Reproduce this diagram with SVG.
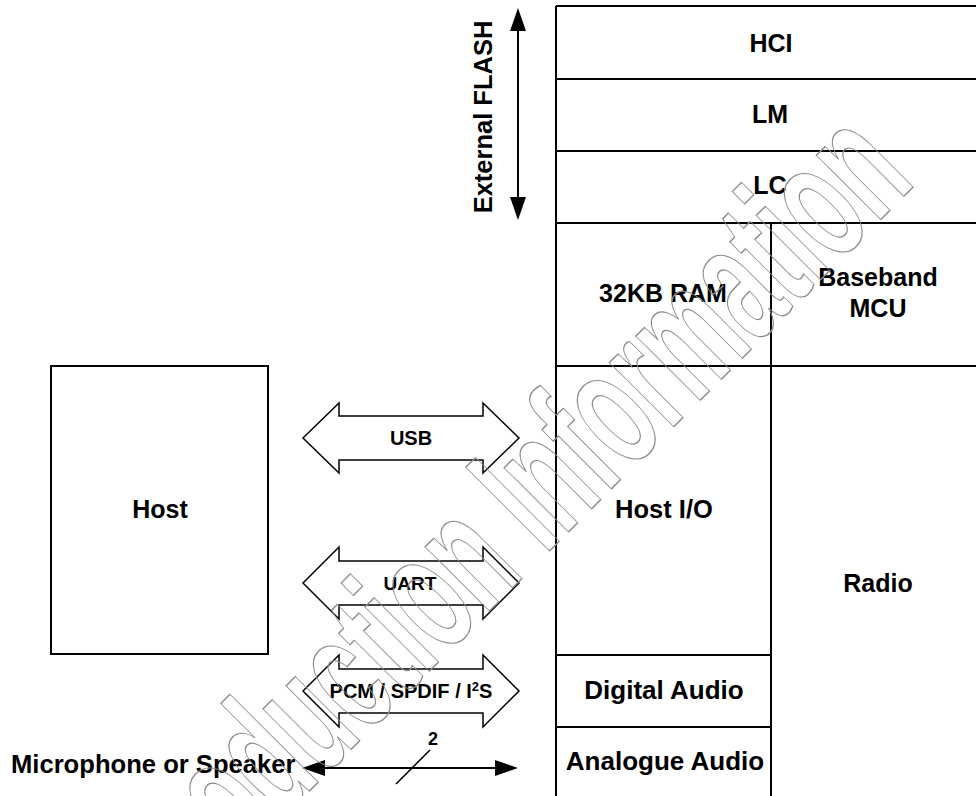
<svg xmlns="http://www.w3.org/2000/svg" width="976" height="796" viewBox="0 0 976 796">
<defs>
<style>
.box{fill:none;stroke:#000;stroke-width:2}
.lbl{font-family:"Liberation Sans",Arial,sans-serif;font-weight:bold;font-size:25px;text-anchor:middle;fill:#000}
.sm{font-family:"Liberation Sans",Arial,sans-serif;font-weight:bold;font-size:19px;text-anchor:middle;fill:#000}
.blk{fill:none;stroke:#000;stroke-width:1.5;stroke-linejoin:miter}
.ln{fill:none;stroke:#000;stroke-width:2}
.wm{font-family:"Liberation Sans",Arial,sans-serif;font-weight:bold;font-size:172px;fill:none;stroke:#8c8c8c;stroke-width:1.4}
</style>
<marker id="ah" viewBox="0 0 23 16" refX="0" refY="8" markerWidth="23" markerHeight="16" markerUnits="userSpaceOnUse" orient="auto-start-reverse">
<path d="M0,0 L23,8 L0,16 z" fill="#000"/>
</marker>
</defs>
<rect width="976" height="796" fill="#fff"/>

<g id="hci"><path class="box" d="M556,6 H986 M556,6 V79"/><text class="lbl" x="771" y="52">HCI</text></g>
<g id="lm"><path class="box" d="M556,79 H986 M556,79 V151"/><text class="lbl" x="770" y="123">LM</text></g>
<g id="lc"><path class="box" d="M556,151 H986 M556,151 V223"/><text class="lbl" x="770" y="194">LC</text></g>
<g id="ram"><path class="box" d="M556,223 H771 V366 H556 Z"/><text class="lbl" x="663" y="302">32KB RAM</text></g>
<g id="baseband"><path class="box" d="M771,223 H986 M771,223 V366"/><text class="lbl" x="878" y="286">Baseband</text><text class="lbl" x="878" y="317">MCU</text></g>
<g id="hostio"><path class="box" d="M556,366 H771 V655 H556 Z"/><text class="lbl" x="664" y="518" style="font-size:25.5px">Host I/O</text></g>
<g id="radio"><path class="box" d="M771,366 H986 M771,366 V800"/><text class="lbl" x="878" y="592">Radio</text></g>
<g id="digital"><path class="box" d="M556,655 H771 V727 H556 Z"/><text class="lbl" x="664" y="699" style="font-size:26px">Digital Audio</text></g>
<g id="analogue"><path class="box" d="M556,727 H771 V800 M556,727 V800"/><text class="lbl" x="665" y="770" style="font-size:26px">Analogue Audio</text></g>
<g id="host"><rect class="box" x="51" y="366" width="217" height="288"/><text class="lbl" x="160" y="518">Host</text></g>
<g id="flash"><text class="lbl" transform="translate(492,117) rotate(-90)" style="font-size:25.5px">External FLASH</text></g>
<g id="mic"><text class="lbl" x="11" y="773" style="text-anchor:start;font-size:25.6px">Microphone or Speaker</text></g>

<g id="connectors">
<line class="ln" x1="518" y1="31" x2="518" y2="197" marker-start="url(#ah)" marker-end="url(#ah)"/>
<path class="blk" d="M303,438 L339,403 L339,416 L483,416 L483,403 L519,438 L483,473 L483,460 L339,460 L339,473 Z"/>
<text class="sm" x="411" y="445" style="font-size:20px">USB</text>
<path class="blk" d="M303,583 L339,547 L339,561 L483,561 L483,547 L519,583 L483,619 L483,605 L339,605 L339,619 Z"/>
<text class="sm" x="410" y="590">UART</text>
<path class="blk" d="M303,691 L339,655 L339,669 L483,669 L483,655 L519,691 L483,727 L483,713 L339,713 L339,727 Z"/>
<text class="sm" x="411" y="698" style="font-size:20px">PCM / SPDIF / I<tspan font-size="13" dy="-7">2</tspan><tspan dy="7">S</tspan></text>
<line class="ln" x1="325" y1="768" x2="495" y2="768" marker-start="url(#ah)" marker-end="url(#ah)"/>
<line x1="396" y1="784" x2="430" y2="750" stroke="#000" stroke-width="1.5"/>
<text class="sm" x="433" y="745" style="font-size:18px">2</text>
</g>

<g id="watermark"><text class="wm" transform="translate(168.6,931.8) rotate(-45) scale(0.557,1)">Production Information</text></g>
</svg>
